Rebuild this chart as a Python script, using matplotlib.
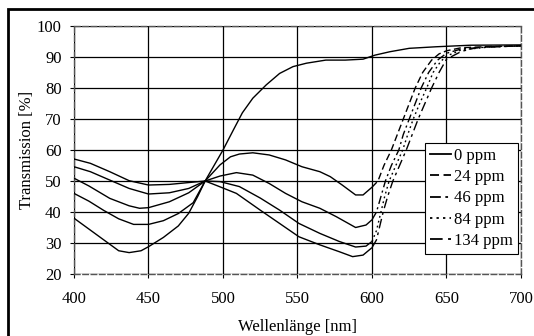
import matplotlib
matplotlib.use("Agg")
import matplotlib.pyplot as plt
from matplotlib.lines import Line2D
from matplotlib.patches import Rectangle

plt.rcParams['font.family'] = ['Liberation Serif', 'DejaVu Serif']

# ---- data ----
x_0 = [400, 410, 420, 430, 437, 445, 450, 460, 470, 477, 483, 488, 494, 500, 507, 513, 520, 529,
       538, 547, 556, 569, 582, 594, 602, 612, 625, 643, 666, 700]
y_0 = [38, 34.5, 31, 27.5, 26.9, 27.5, 28.8, 31.8, 35.5, 39.6, 45, 50, 55, 60, 66.5, 72, 76.7, 81,
       84.7, 86.9, 88, 89, 89, 89.3, 90.6, 91.7, 92.8, 93.3, 93.8, 93.9]

x_24 = [400, 410, 420, 430, 440, 450, 460, 470, 480, 488, 498, 505, 511, 520, 531, 542, 553, 565,
        572, 580, 589, 594, 600, 604, 608, 613, 617, 621, 625, 629, 634, 640, 645, 650, 660, 680, 700]
y_24 = [46, 43.5, 40.5, 37.8, 36, 36, 37.2, 39.5, 43, 50, 55.2, 57.8, 58.7, 59.1, 58.4, 56.8, 54.6, 53,
        51.4, 48.7, 45.5, 45.5, 48, 50, 55, 60, 65, 70, 75, 80, 85, 89, 91, 92, 93, 93.4, 93.6]

x_46 = [400, 410, 424, 437, 444, 450, 464, 477, 488, 498, 509, 520, 531, 542, 553, 565, 576, 589,
        596, 600, 603, 606, 609, 613, 618, 621, 625, 629, 633, 638, 644, 650, 660, 680, 700]
y_46 = [50.9, 48.4, 44.4, 42, 41.2, 41.4, 43.3, 46.2, 50, 51.6, 52.7, 51.9, 49.2, 46, 43.3, 41.2, 38.5, 35,
        35.8, 37.5, 40, 45, 50, 55, 60, 65, 70, 75, 80, 85, 89, 91.2, 92.6, 93.3, 93.6]

x_84 = [400, 411, 424, 437, 450, 464, 477, 488, 498, 511, 525, 538, 551, 565, 578, 589, 596, 600,
        603, 606, 608.5, 611.5, 616, 620.6, 624, 627.7, 632, 636.7, 641, 646, 650, 660, 680, 700]
y_84 = [54.6, 53, 50.3, 47.6, 45.8, 46.2, 47.6, 50, 49.8, 48.2, 44.5, 40.6, 36.3, 33.1, 30.5, 28.7, 29, 30.5,
        34, 40, 45, 50, 55, 60, 65, 70, 75, 80, 85, 88.5, 90.3, 92.3, 93.3, 93.6]

x_134 = [400, 411, 424, 437, 450, 464, 477, 488, 496, 509, 525, 538, 551, 565, 578, 587, 594, 600,
         603, 605, 607.5, 610.5, 614, 618.5, 623, 627, 631, 635.5, 640, 645, 650, 660, 670, 700]
y_134 = [57.1, 55.7, 53, 50.1, 48.7, 48.9, 49.5, 50, 48.5, 46, 40.6, 36.3, 32, 29.4, 27.2, 25.6, 26.1, 28.5,
         31, 35, 40, 45, 50, 55, 60, 65, 70, 75, 80, 85, 89.3, 91.8, 93, 93.6]

labels = ['0 ppm', '24 ppm', '46 ppm', '84 ppm', '134 ppm']
x_ticks = [400, 450, 500, 550, 600, 650, 700]
y_ticks = [20, 30, 40, 50, 60, 70, 80, 90, 100]

# ---- styles ----
styles = ['-', (0, (5, 2.5)), (0, (6, 2.5, 1.5, 2.5)), (0, (1.3, 2.3)), (0, (7, 3, 2, 3))]
series = [(x_0, y_0), (x_24, y_24), (x_46, y_46), (x_84, y_84), (x_134, y_134)]

FS = 12

fig = plt.figure(figsize=(5.34, 3.36), dpi=100)
ax = fig.add_axes([74/534, 1-274/336, (521-74)/534, (274-26)/336])

lw = 1.0
for i, (xs, ys) in enumerate(series):
    if i == 0:
        ax.plot(xs, ys, color='black', lw=lw, ls='-', zorder=3)
    else:
        # portion of the curve before the steep rise appears solid in the reference
        k = next(j for j, v in enumerate(xs) if v >= 600)
        ax.plot(xs[:k+1], ys[:k+1], color='black', lw=lw, ls='-', zorder=3, solid_capstyle='butt')
        ax.plot(xs[k:], ys[k:], color='black', lw=lw, ls=styles[i], zorder=3, dash_capstyle='butt')

ax.set_xlim(400, 700)
ax.set_ylim(20, 100)
ax.set_xticks(x_ticks)
ax.set_yticks(y_ticks)
ax.set_xticklabels([str(v) for v in x_ticks], fontsize=FS)
ax.set_yticklabels([str(v) for v in y_ticks], fontsize=FS)
ax.grid(True, color='black', lw=0.9, zorder=1)
ax.set_axisbelow(True)
ax.tick_params(axis='x', direction='out', length=3, width=0.8, color='black', pad=9)
ax.tick_params(axis='y', direction='out', length=3, width=0.8, color='black', pad=6)
for s in ax.spines.values():
    s.set_linestyle((0, (4, 2)))
    s.set_color('#555555')
    s.set_linewidth(1.0)

ax.set_xlabel('Wellenlänge [nm]', fontsize=FS, labelpad=9)
ax.set_ylabel('Transmission [%]', fontsize=FS, labelpad=1)

handles = [Line2D([], [], color='black', lw=1.3, ls=styles[i]) for i in range(5)]
leg = ax.legend(handles, labels, loc='upper right', bbox_to_anchor=(0.993, 0.528),
                borderaxespad=0, fontsize=FS, frameon=True, fancybox=False,
                handlelength=1.25, handletextpad=0.2, labelspacing=0.32,
                borderpad=0.28)
leg.get_frame().set_edgecolor('black')
leg.get_frame().set_linewidth(0.8)
leg.get_frame().set_facecolor('white')
leg.get_frame().set_alpha(1)
leg.set_zorder(5)

# outer border of the chart area
fig.patches.append(Rectangle((8/534, -0.05), 1.2, 1 - 9/336 + 0.05, transform=fig.transFigure,
                             fill=False, edgecolor='black', lw=2.0))

fig.savefig('out.png', dpi=100)
